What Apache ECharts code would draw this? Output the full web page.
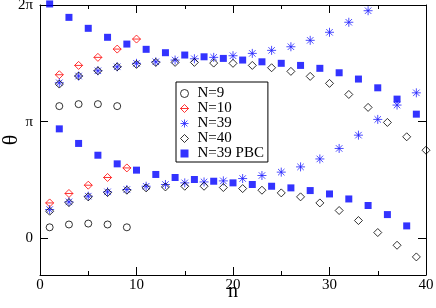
<!DOCTYPE html>
<html>
<head>
<meta charset="utf-8">
<script src="https://cdn.jsdelivr.net/npm/echarts@6/dist/echarts.min.js"></script>
<style>html,body{margin:0;padding:0;background:#fff}#c{width:436px;height:308px}</style>
</head>
<body>
<div id="c"></div>
<script>
// values of theta in units of pi
const nN9 = [1,2,3,4,5,6,7,8,9];
const yN9 = [0.094,1.133,0.118,1.150,0.126,1.150,0.118,1.133,0.094];

const nN10 = [1,2,3,4,5,6,7,8,9,10];
const yN10 = [0.303,1.402,0.384,1.482,0.455,1.551,0.521,1.622,0.603,1.708];

const nN39odd = [1,3,5,7,9,11,13,15,17,19,21,23,25,27,29,31,33,35,37,39];
const yN39odd = [0.246,0.312,0.361,0.398,0.418,0.446,0.461,0.475,0.483,0.492,0.512,0.538,0.567,0.612,0.680,0.770,0.884,1.019,1.142,1.247];
const nN39even = [2,4,6,8,10,12,14,16,18,20,22,24,26,28,30,32,34];
const yN39even = [1.333,1.391,1.436,1.470,1.500,1.513,1.528,1.539,1.551,1.565,1.585,1.611,1.642,1.697,1.766,1.852,1.951];

const nN40odd = [1,3,5,7,9,11,13,15,17,19,21,23,25,27,29,31,33,35,37,39];
const yN40odd = [0.232,0.306,0.355,0.392,0.412,0.432,0.440,0.446,0.446,0.435,0.426,0.412,0.389,0.355,0.303,0.238,0.152,0.049,-0.060,-0.160];
const nN40even = [2,4,6,8,10,12,14,16,18,20,22,24,26,28,30,32,34,36,38,40];
const yN40even = [1.322,1.391,1.436,1.470,1.491,1.508,1.508,1.508,1.502,1.500,1.482,1.462,1.431,1.388,1.328,1.233,1.122,0.993,0.870,0.755];

const nPBCodd = [1,3,5,7,9,11,13,15,17,19,21,23,25,27,29,31,33,35,37,39];
const yPBCodd = [2.009,1.894,1.800,1.723,1.665,1.620,1.591,1.571,1.556,1.542,1.528,1.513,1.500,1.482,1.457,1.419,1.365,1.290,1.193,1.064];
const nPBCeven = [2,4,6,8,10,12,14,16,18,20,22,24,26,28,30,32,34,36,38];
const yPBCeven = [0.938,0.813,0.712,0.638,0.584,0.547,0.521,0.504,0.489,0.475,0.461,0.446,0.432,0.409,0.380,0.337,0.281,0.203,0.106];

const xTicks = [0,10,20,30,40];
const yTickValues = [0,1,2];
const yTickLabels = ['0','\u03c0','2\u03c0'];

function pairs(ns, ys){ return ns.map((n,i)=>[n, ys[i]]); }

const FONT = 'Liberation Serif';
const diamondPath = 'path://M0,-1L1,0L0,1L-1,0Z';
const diamondBarPath = 'path://M0,-1L1,0L0,1L-1,0Z M-1,0L1,0';
const starPath = 'path://M0,-1L0,1M-1,0L1,0M-0.72,-0.72L0.72,0.72M-0.72,0.72L0.72,-0.72';
const squarePath = 'path://M-1,-1L1,-1L1,1L-1,1Z';

const richLabel = {t:{fontFamily:FONT, fontSize:15, color:'#000', lineHeight:15}};

const chart = echarts.init(document.getElementById('c'), null, {renderer:'canvas'});
chart.setOption({
  animation:false,
  backgroundColor:'#fff',
  textStyle:{fontFamily:FONT},
  grid:{left:40, right:10, top:5, bottom:33, containLabel:false, outerBoundsMode:'none'},
  xAxis:[
    {
      type:'value', min:0, max:40, interval:10, position:'bottom',
      name:'n', nameLocation:'middle', nameGap:7, nameMoveOverlap:false,
      nameTextStyle:{fontFamily:FONT, fontSize:20, color:'#000'},
      axisLine:{show:true, onZero:false, lineStyle:{color:'#000', width:1}},
      axisTick:{show:true, inside:true, length:8, lineStyle:{color:'#000'}},
      minorTick:{show:true, splitNumber:2, length:4, lineStyle:{color:'#000'}},
      splitLine:{show:false},
      axisLabel:{show:true, margin:3, fontFamily:FONT, fontSize:15, color:'#000',
        rich: richLabel,
        formatter:(v)=> xTicks.includes(v) ? '{t|' + v + '}' : ''}
    },
    {
      type:'value', min:0, max:40, interval:10, position:'top',
      axisLine:{show:true, onZero:false, lineStyle:{color:'#000', width:1}},
      axisTick:{show:true, inside:true, length:8, lineStyle:{color:'#000'}},
      minorTick:{show:true, splitNumber:2, length:4, lineStyle:{color:'#000'}},
      splitLine:{show:false}, axisLabel:{show:false}
    }
  ],
  yAxis:[
    {
      type:'value', min:-0.315, max:2, position:'left',
      name:'\u03b8', nameLocation:'middle', nameGap:18, nameRotate:90, nameMoveOverlap:false,
      nameTextStyle:{fontFamily:FONT, fontSize:22, color:'#000'},
      axisLine:{show:true, onZero:false, lineStyle:{color:'#000', width:1}},
      axisTick:{show:true, inside:true, length:8, customValues: yTickValues, lineStyle:{color:'#000'}},
      splitLine:{show:false},
      axisLabel:{show:true, margin:7, fontFamily:FONT, fontSize:15, color:'#000',
        rich: richLabel,
        customValues: yTickValues,
        formatter:(v)=> { const s = yTickLabels[yTickValues.indexOf(Math.round(v))]; return s ? '{t|' + s + '}' : ''; }}
    },
    {
      type:'value', min:-0.315, max:2, position:'right',
      axisLine:{show:true, onZero:false, lineStyle:{color:'#000', width:1}},
      axisTick:{show:true, inside:true, length:8, customValues: yTickValues, lineStyle:{color:'#000'}},
      splitLine:{show:false}, axisLabel:{show:false}
    }
  ],
  legend:{
    orient:'vertical', left:176, top:82,
    padding:[4,4,1,4], itemGap:0, itemWidth:16, itemHeight:8,
    borderColor:'#000', borderWidth:1, borderRadius:0,
    backgroundColor:'#fff',
    itemStyle:{borderWidth:1},
    textStyle:{fontFamily:FONT, fontSize:15, color:'#000', lineHeight:14},
    data:['N=9','N=10','N=39','N=40','N=39 PBC']
  },
  series:[
    {name:'N=9', type:'scatter', clip:false, symbol:'circle', symbolSize:7,
      itemStyle:{color:'transparent', borderColor:'#000', borderWidth:1},
      data: pairs(nN9, yN9)},
    {name:'N=10', type:'scatter', clip:false, symbol:diamondBarPath, symbolSize:8,
      itemStyle:{color:'transparent', borderColor:'#ff0000', borderWidth:1},
      data: pairs(nN10, yN10)},
    {name:'N=39', type:'scatter', clip:false, symbol:starPath, symbolSize:9,
      itemStyle:{color:'transparent', borderColor:'#2020ff', borderWidth:1},
      data: pairs(nN39odd, yN39odd).concat(pairs(nN39even, yN39even))},
    {name:'N=40', type:'scatter', clip:false, symbol:diamondPath, symbolSize:8,
      itemStyle:{color:'transparent', borderColor:'#000', borderWidth:1},
      data: pairs(nN40odd, yN40odd).concat(pairs(nN40even, yN40even))},
    {name:'N=39 PBC', type:'scatter', clip:false, symbol:squarePath, symbolSize:7,
      itemStyle:{color:'#0000ff'},
      data: pairs(nPBCodd, yPBCodd).concat(pairs(nPBCeven, yPBCeven))}
  ]
});
</script>
</body>
</html>
